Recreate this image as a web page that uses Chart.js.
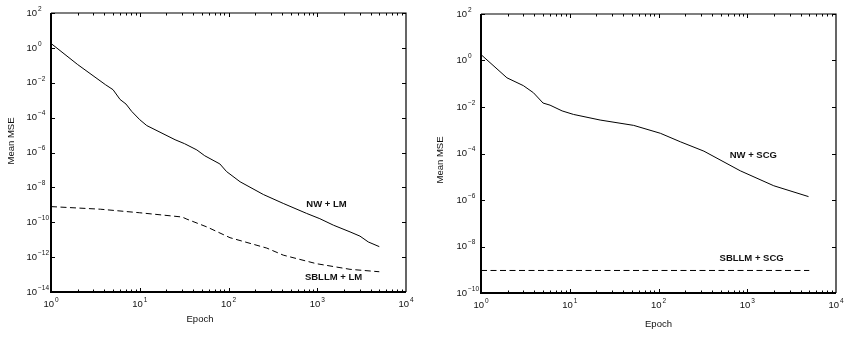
<!DOCTYPE html>
<html>
<head>
<meta charset="utf-8">
<script src="https://cdn.jsdelivr.net/npm/chart.js@4.4.1/dist/chart.umd.min.js"></script>
<style>
  html, body { margin: 0; padding: 0; background: #fff; }
  #wrap { position: relative; width: 848px; height: 344px; }
  canvas { position: absolute; top: 0; }
  #lm { left: 0; }
  #scg { left: 424px; }
</style>
</head>
<body>
<div id="wrap">
  <canvas id="lm" width="424" height="344"></canvas>
  <canvas id="scg" width="424" height="344"></canvas>
</div>
<script>
// left panel - Levenberg-Marquardt
const lmNwEpochs = [1, 2, 4.1, 5, 6, 7, 8.1, 10, 12, 25, 32, 44, 54, 80, 95, 135, 247, 414, 760, 1070, 1520, 2340, 3030, 3760, 5000];
const lmNwMse = [1.8, 1.1e-1, 7.8e-3, 4.0e-3, 1.1e-3, 6.0e-4, 2.3e-4, 7.6e-5, 3.5e-5, 5.4e-6, 3.2e-6, 1.4e-6, 6.5e-7, 2.2e-7, 8.1e-8, 2.1e-8, 3.9e-9, 1.2e-9, 3.2e-10, 1.6e-10, 6.8e-11, 2.8e-11, 1.6e-11, 7.4e-12, 4.0e-12];
const lmSbEpochs = [1, 3.6, 10, 30, 34, 57, 104, 270, 414, 980, 2340, 5000];
const lmSbMse = [7.9e-10, 5.6e-10, 3.5e-10, 2.0e-10, 1.5e-10, 5.4e-11, 1.3e-11, 3.3e-12, 1.3e-12, 4.2e-13, 2.0e-13, 1.45e-13];

// right panel - scaled conjugate gradient
const scgNwEpochs = [1, 1.96, 3, 3.9, 5, 6, 8.2, 11, 22, 52.5, 105, 176, 325, 835, 1990, 4900];
const scgNwMse = [1.8, 0.18, 0.083, 0.041, 0.0148, 0.012, 0.0068, 0.0048, 0.00275, 0.00162, 7.4e-4, 3.2e-4, 1.26e-4, 1.8e-5, 4.1e-6, 1.4e-6];
const scgSbEpochs = [1, 5000];
const scgSbMse = [9.3e-10, 9.3e-10];

// exponents that get a labelled tick on each y axis
const lmYExps = [2, 0, -2, -4, -6, -8, -10, -12, -14];
const scgYExps = [2, 0, -2, -4, -6, -8, -10];
const xExps = [0, 1, 2, 3, 4];

const FONT = '"Liberation Sans", Arial, Helvetica, sans-serif';

const pts = (xs, ys) => xs.map((x, i) => ({ x: x, y: ys[i] }));
const expText = (e) => (e < 0 ? '\u2212' + (-e) : String(e));

function power(ctx, e, x, y, align) {
  ctx.font = '9.5px ' + FONT;
  const wb = ctx.measureText('10').width;
  ctx.font = '6.5px ' + FONT;
  const we = ctx.measureText(expText(e)).width;
  const x0 = align === 'center' ? x - (wb + we + 1) / 2 : x - wb;
  ctx.textAlign = 'left';
  ctx.textBaseline = 'middle';
  ctx.font = '9.5px ' + FONT;
  ctx.fillText('10', x0, y);
  ctx.font = '6.5px ' + FONT;
  ctx.fillText(expText(e), x0 + wb + 1, y - 4);
}

const logFrame = {
  id: 'logFrame',
  afterDraw(chart, args, opts) {
    const { ctx, chartArea: a, scales: { x, y } } = chart;
    ctx.save();
    ctx.strokeStyle = '#000';
    ctx.fillStyle = '#111';

    // box: top/right lighter, bottom/left heavier like the original
    ctx.lineWidth = 1.2;
    ctx.beginPath();
    ctx.moveTo(a.left, a.top);
    ctx.lineTo(a.right, a.top);
    ctx.lineTo(a.right, a.bottom);
    ctx.stroke();
    ctx.lineWidth = 2;
    ctx.beginPath();
    ctx.moveTo(a.left, a.top);
    ctx.lineTo(a.left, a.bottom);
    ctx.lineTo(a.right, a.bottom);
    ctx.stroke();

    ctx.lineWidth = 1;
    ctx.beginPath();
    for (let d = 0; d < 4; d++) {
      for (let m = 1; m <= 9; m++) {
        const px = Math.round(x.getPixelForValue(m * Math.pow(10, d))) + 0.5;
        const len = m === 1 ? 4 : 2.5;
        ctx.moveTo(px, a.bottom);
        ctx.lineTo(px, a.bottom - len);
        ctx.moveTo(px, a.top);
        ctx.lineTo(px, a.top + len);
      }
    }
    opts.yExps.forEach((e) => {
      const py = Math.round(y.getPixelForValue(Math.pow(10, e))) + 0.5;
      ctx.moveTo(a.left, py);
      ctx.lineTo(a.left + 4, py);
      ctx.moveTo(a.right, py);
      ctx.lineTo(a.right - 4, py);
    });
    ctx.stroke();

    xExps.forEach((e) => power(ctx, e, x.getPixelForValue(Math.pow(10, e)), a.bottom + 12, 'center'));
    opts.yExps.forEach((e) => power(ctx, e, a.left - 14, y.getPixelForValue(Math.pow(10, e)), 'right'));

    ctx.font = '9.5px ' + FONT;
    ctx.textAlign = 'center';
    ctx.textBaseline = 'middle';
    ctx.fillText('Epoch', opts.xTitle[0], opts.xTitle[1]);
    ctx.save();
    ctx.translate(opts.yTitle[0], opts.yTitle[1]);
    ctx.rotate(-Math.PI / 2);
    ctx.fillText('Mean MSE', 0, 0);
    ctx.restore();

    ctx.font = 'bold 9.5px ' + FONT;
    opts.notes.forEach((n) => {
      ctx.fillText(n.text, x.getPixelForValue(n.at[0]), y.getPixelForValue(n.at[1]));
    });
    ctx.restore();
  }
};

function makeChart(id, solid, dashed, yMin, padding, frame) {
  return new Chart(document.getElementById(id), {
    type: 'line',
    data: {
      datasets: [
        { data: solid, borderColor: '#000', borderWidth: 1, pointRadius: 0, tension: 0 },
        { data: dashed, borderColor: '#000', borderWidth: 1, borderDash: [6, 3.5], pointRadius: 0, tension: 0 },
      ],
    },
    options: {
      responsive: false,
      animation: false,
      devicePixelRatio: 1,
      layout: { padding: padding },
      scales: {
        x: { type: 'logarithmic', min: 1, max: 10000, display: false },
        y: { type: 'logarithmic', min: yMin, max: 100, display: false },
      },
      plugins: {
        legend: { display: false },
        tooltip: { enabled: false },
        logFrame: frame,
      },
    },
    plugins: [logFrame],
  });
}

makeChart('lm', pts(lmNwEpochs, lmNwMse), pts(lmSbEpochs, lmSbMse), 1e-14,
  { left: 51, right: 18, top: 13, bottom: 52 },
  {
    yExps: lmYExps,
    xTitle: [200, 319],
    yTitle: [11, 141],
    notes: [
      { text: 'NW + LM', at: [1270, 1e-9] },
      { text: 'SBLLM + LM', at: [1525, 7.2e-14] },
    ],
  });

makeChart('scg', pts(scgNwEpochs, scgNwMse), pts(scgSbEpochs, scgSbMse), 1e-10,
  { left: 57, right: 12, top: 14, bottom: 51 },
  {
    yExps: scgYExps,
    xTitle: [234.5, 324],
    yTitle: [16, 160],
    notes: [
      { text: 'NW + SCG', at: [1170, 8.7e-5] },
      { text: 'SBLLM + SCG', at: [1120, 3.0e-9] },
    ],
  });
</script>
</body>
</html>
